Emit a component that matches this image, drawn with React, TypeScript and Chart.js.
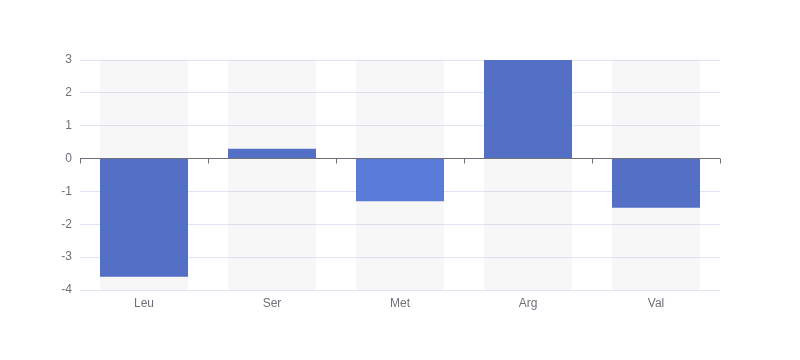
import React, { useEffect, useRef } from "react";
import { Chart, registerables } from "chart.js";

Chart.register(...registerables);

const categories = ["Leu", "Ser", "Met", "Arg", "Val"];
const values = [-3.6, 0.3, -1.3, 3.0, -1.5];
const barColors = ["#5470c6", "#5470c6", "#5b7bd9", "#5470c6", "#5470c6"];
const yMin = -4;
const yMax = 3;

const zeroLinePlugin = {
  id: "zeroLine",
  afterDatasetsDraw(chart: any) {
    const { ctx, chartArea, scales } = chart;
    const x = scales.x;
    const y0 = Math.floor(scales.y.getPixelForValue(0)) + 0.5;
    ctx.save();
    ctx.strokeStyle = "#6e7079";
    ctx.lineWidth = 1;
    ctx.beginPath();
    ctx.moveTo(chartArea.left, y0);
    ctx.lineTo(chartArea.right, y0);
    const n = categories.length;
    for (let i = 0; i <= n; i++) {
      const px = Math.round(x.getPixelForValue(i - 0.5)) + 0.5;
      ctx.moveTo(px, y0);
      ctx.lineTo(px, y0 + 5);
    }
    ctx.stroke();
    ctx.restore();
  },
};

export default function App() {
  const ref = useRef<HTMLCanvasElement>(null);
  useEffect(() => {
    const chart = new Chart(ref.current!, {
      type: "bar",
      data: {
        labels: categories,
        datasets: [
          {
            data: values,
            backgroundColor: barColors,
            grouped: false,
            order: 0,
            barPercentage: 0.6875,
            categoryPercentage: 1,
          } as any,
          {
            data: categories.map(() => [yMin, yMax]),
            backgroundColor: "rgba(180,180,180,0.1)",
            grouped: false,
            order: 1,
            barPercentage: 0.6875,
            categoryPercentage: 1,
          } as any,
        ],
      },
      options: {
        animation: false,
        responsive: false,
        layout: { padding: { left: 0, right: 80, top: 60, bottom: 0 } },
        plugins: { legend: { display: false }, tooltip: { enabled: false } },
        scales: {
          x: {
            grid: { display: false, drawTicks: false },
            border: { display: false },
            ticks: { color: "#6e7079", font: { size: 12, family: "sans-serif" }, padding: 6 },
            afterFit: (s: any) => {
              s.height = 70;
            },
          },
          y: {
            min: yMin,
            max: yMax,
            grid: { color: "#e0e6f1", drawTicks: false },
            border: { display: false },
            ticks: {
              stepSize: 1,
              color: "#6e7079",
              font: { size: 12, family: "sans-serif" },
              padding: 8,
            },
            afterFit: (s: any) => {
              s.width = 80;
            },
          },
        },
      },
      plugins: [zeroLinePlugin],
    });
    return () => chart.destroy();
  }, []);
  return (
    <div style={{ position: "fixed", left: 0, top: 0, width: 800, height: 360, background: "#fff" }}>
      <canvas ref={ref} width={800} height={360} />
    </div>
  );
}
